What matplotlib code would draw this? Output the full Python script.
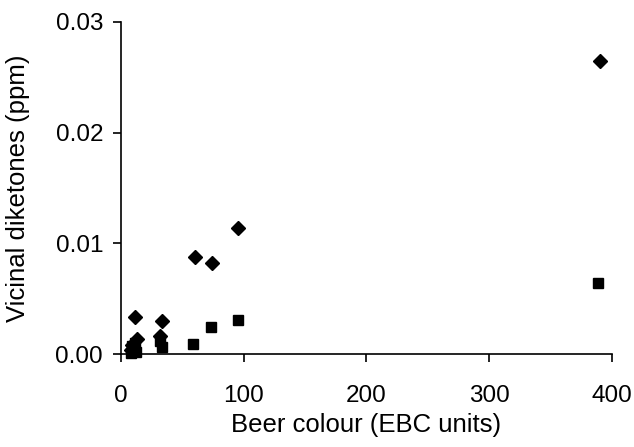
import matplotlib
matplotlib.use("Agg")
import matplotlib.pyplot as plt

plt.rcParams['font.family'] = ['Liberation Sans', 'DejaVu Sans']

# diamonds
colour_d = [11, 33, 13, 32, 9, 8, 60, 74, 95, 390]
vdk_d = [0.0033, 0.0030, 0.0014, 0.0016, 0.0008, 0.0004, 0.0088, 0.0082, 0.0114, 0.0265]
# squares
colour_s = [8, 10, 12, 9, 11, 32, 33, 59, 73, 95, 389]
vdk_s = [0.0001, 0.0003, 0.0002, 0.0007, 0.0010, 0.0012, 0.0006, 0.0009, 0.0024, 0.0031, 0.0064]

xticks = [0, 100, 200, 300, 400]
yticks = [0.0, 0.01, 0.02, 0.03]
ylabels = ["0.00", "0.01", "0.02", "0.03"]

fig = plt.figure(figsize=(6.34, 4.47), dpi=100)
ax = fig.add_axes([0.191, 0.208, 0.774, 0.743])
ax.plot(colour_d, vdk_d, "D", color="black", ms=7, ls="none")
ax.plot(colour_s, vdk_s, "s", color="black", ms=6.5, ls="none")

ax.set_xlim(0, 400)
ax.set_ylim(0, 0.03)
ax.set_xticks(xticks)
ax.set_yticks(yticks)
ax.set_yticklabels(ylabels)
ax.spines["top"].set_visible(False)
ax.spines["right"].set_visible(False)
for s in ["left", "bottom"]:
    ax.spines[s].set_linewidth(1.2)
ax.tick_params(direction="out", length=6, width=1.2, labelsize=17.5)
ax.tick_params(axis="x", pad=16)
ax.tick_params(axis="y", pad=7)
ax.set_xlabel("Beer colour (EBC units)", fontsize=18.5, va="center")
ax.set_ylabel("Vicinal diketones (ppm)", fontsize=18.5, va="center")
ax.xaxis.set_label_coords(0.5, -0.215)
ax.yaxis.set_label_coords(-0.21, 0.5)
for m in ax.lines:
    m.set_clip_on(False)

fig.savefig("out.png", dpi=100)
